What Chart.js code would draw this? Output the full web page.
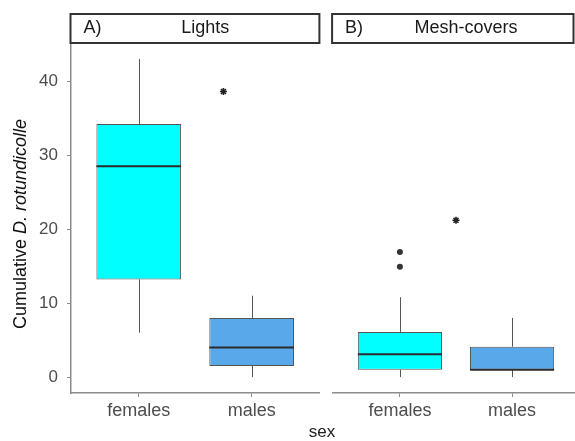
<html>
<head>
<title>Cumulative D. rotundicolle by sex</title>
<script src="https://cdn.jsdelivr.net/npm/chart.js@4.4.1/dist/chart.umd.min.js"></script>
<style>
    html, body { margin: 0; padding: 0; background: white; overflow: hidden; }
    #wrap { position: relative; width: 575px; height: 441px; overflow: hidden; font-family: "Liberation Sans", Arial, sans-serif; }
    canvas { position: absolute; top: 0; }
    #ytitle { position: absolute; left: -110px; top: 213px; width: 260px; height: 22px; line-height: 22px;
              text-align: center; font-size: 18px; color: #111; transform: rotate(-90deg); }
    #xtitle { position: absolute; left: 292px; top: 422px; width: 60px; text-align: center; font-size: 17px; color: #222; }
</style>
</head>
<body>
<div id="wrap">
    <canvas id="lights" width="325" height="441" style="left:0px"></canvas>
    <canvas id="mesh" width="258" height="441" style="left:327px"></canvas>
    <div id="ytitle">Cumulative <i>D. rotundicolle</i></div>
    <div id="xtitle">sex</div>
</div>
<script>
    // categories and ticks
    var sexes = ['females', 'males'];
    var yTicks = [0, 10, 20, 30, 40];

    // A) Lights
    var lightsLow = [6, 0];
    var lightsQ1 = [13.2, 1.5];
    var lightsMed = [28.5, 4];
    var lightsQ3 = [34.2, 8];
    var lightsHigh = [43, 11];
    var lightsOutliers = [];
    var lightsStars = [{x: 1.75, y: 38.6}];

    // B) Mesh-covers
    var meshLow = [0, 0];
    var meshQ1 = [1, 1];
    var meshMed = [3.1, 1];
    var meshQ3 = [6.1, 4.1];
    var meshHigh = [10.8, 8];
    var meshOutliers = [{x: 1, y: 16.9}, {x: 1, y: 14.9}];
    var meshStars = [{x: 1.5, y: 21.2}];

    var boxColors = ['#00FFFF', '#58A8EA'];
    var PAGE_W = 575;

    // whiskers, medians and the facet strip
    var facetPlugin = {
        id: 'facet',
        beforeDatasetsDraw: function(chart, args, o) {
            var x = chart.scales.x, y = chart.scales.y, ctx = chart.ctx;
            ctx.save();
            ctx.strokeStyle = '#555';
            ctx.lineWidth = 1;
            for (var i = 0; i < o.low.length; i++) {
                var px = Math.round(x.getPixelForValue(i + 1)) + 0.5;
                ctx.beginPath();
                ctx.moveTo(px, y.getPixelForValue(o.high[i]));
                ctx.lineTo(px, y.getPixelForValue(o.q3[i]));
                ctx.moveTo(px, y.getPixelForValue(o.q1[i]));
                ctx.lineTo(px, y.getPixelForValue(o.low[i]));
                ctx.stroke();
            }
            ctx.restore();
        },
        afterDatasetsDraw: function(chart, args, o) {
            var y = chart.scales.y, ctx = chart.ctx;
            var bars = chart.getDatasetMeta(0).data;
            ctx.save();
            ctx.strokeStyle = '#2b2b2b';
            ctx.lineWidth = 2;
            for (var i = 0; i < bars.length; i++) {
                var py = y.getPixelForValue(o.med[i]);
                ctx.beginPath();
                ctx.moveTo(bars[i].x - bars[i].width / 2, py);
                ctx.lineTo(bars[i].x + bars[i].width / 2, py);
                ctx.stroke();
            }
            ctx.restore();
        },
        afterDraw: function(chart, args, o) {
            var ctx = chart.ctx, area = chart.chartArea;
            var left = area.left - 0.5;
            var right = Math.min(area.right, PAGE_W - o.offset - 1.5);
            ctx.save();
            ctx.fillStyle = 'white';
            ctx.fillRect(left, 14, right - left, 29);
            ctx.strokeStyle = '#333';
            ctx.lineWidth = 2;
            ctx.strokeRect(left, 14, right - left, 29);
            ctx.fillStyle = '#1a1a1a';
            ctx.font = '18px "Liberation Sans", Arial, sans-serif';
            ctx.textBaseline = 'middle';
            ctx.textAlign = 'left';
            ctx.fillText(o.tag, left + 13, 28);
            ctx.textAlign = 'center';
            ctx.fillText(o.title, (area.left + area.right) / 2 + 10, 28);
            ctx.restore();
        }
    };

    function makeChart(id, showY, low, q1, med, q3, high, outliers, stars, tag, title, offset) {
        var boxData = [];
        for (var i = 0; i < sexes.length; i++) {
            boxData.push({x: i + 1, y: [q1[i], q3[i]]});
        }
        return new Chart(document.getElementById(id), {
            type: 'bar',
            data: {
                datasets: [{
                    data: boxData,
                    backgroundColor: boxColors,
                    borderColor: '#555',
                    borderWidth: 1,
                    borderSkipped: false,
                    barPercentage: 0.75,
                    categoryPercentage: 1
                }, {
                    type: 'scatter',
                    data: outliers,
                    pointRadius: 3,
                    backgroundColor: '#333',
                    borderWidth: 0
                }, {
                    type: 'scatter',
                    data: stars,
                    pointStyle: 'star',
                    pointRadius: 3.5,
                    borderColor: '#222',
                    borderWidth: 1.6
                }]
            },
            options: {
                responsive: false,
                animation: false,
                layout: { padding: { top: 43, right: 2, left: showY ? 0 : 4, bottom: 0 } },
                plugins: {
                    legend: { display: false },
                    tooltip: { enabled: false },
                    facet: { low: low, q1: q1, med: med, q3: q3, high: high, tag: tag, title: title, offset: offset }
                },
                scales: {
                    x: {
                        type: 'linear',
                        offset: false,
                        min: 0.4,
                        max: 2.6,
                        afterBuildTicks: function(s) { s.ticks = sexes.map(function(c, i) { return {value: i + 1}; }); },
                        afterFit: function(s) { s.height = 48; },
                        ticks: {
                            callback: function(v) { return sexes[v - 1]; },
                            color: '#4d4d4d',
                            font: { size: 18, family: '"Liberation Sans", Arial, sans-serif' },
                            padding: 3
                        },
                        grid: { display: true, offset: false, drawOnChartArea: false, drawTicks: true, tickLength: 4, tickColor: '#8c8c8c' },
                        border: { display: true, color: '#8c8c8c', width: 1.5 }
                    },
                    y: {
                        display: showY,
                        min: -2.15,
                        max: 45.15,
                        afterBuildTicks: function(s) { s.ticks = yTicks.map(function(v) { return {value: v}; }); },
                        afterFit: function(s) { s.width = showY ? 71 : 0; },
                        ticks: {
                            color: '#4d4d4d',
                            font: { size: 17, family: '"Liberation Sans", Arial, sans-serif' },
                            padding: 9
                        },
                        grid: { display: true, drawOnChartArea: false, drawTicks: true, tickLength: 4, tickColor: '#8c8c8c' },
                        border: { display: true, color: '#8c8c8c', width: 1.5 }
                    }
                }
            },
            plugins: [facetPlugin]
        });
    }

    makeChart('lights', true, lightsLow, lightsQ1, lightsMed, lightsQ3, lightsHigh, lightsOutliers, lightsStars, 'A)', 'Lights', 0);
    makeChart('mesh', false, meshLow, meshQ1, meshMed, meshQ3, meshHigh, meshOutliers, meshStars, 'B)', 'Mesh-covers', 327);
</script>
</body>
</html>
